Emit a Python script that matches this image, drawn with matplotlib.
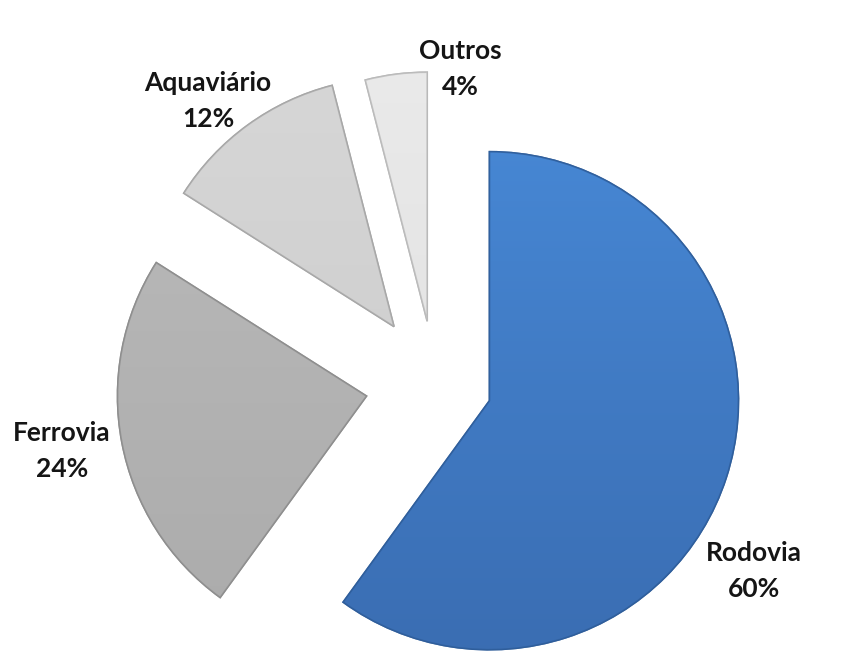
import numpy as np
import matplotlib
matplotlib.use("Agg")
import matplotlib.pyplot as plt
from matplotlib.patches import Wedge
from matplotlib.colors import LinearSegmentedColormap

# ---- data ----
categories = ["Rodovia", "Ferrovia", "Aquaviário", "Outros"]
shares = [60, 24, 12, 4]
pct_labels = ["60%", "24%", "12%", "4%"]

# ---- style ----
explode_frac = [0.23, 0.28, 0.28, 0.25]  # fraction of radius
top_colors = ["#4A8EDD", "#BDBDBD", "#D8D8D8", "#EBEBEB"]
bot_colors = ["#3A6DB2", "#ABABAB", "#C9C9C9", "#DEDEDE"]
edge_colors = ["#2E5D9A", "#8C8C8C", "#A5A5A5", "#B8B8B8"]
label_pos = [(754, 571), (62, 451), (208, 101), (460, 69)]  # pixel layout (x, y from top)

W, H = 843, 661
fig = plt.figure(figsize=(W / 100, H / 100), dpi=100)
ax = fig.add_axes([0, 0, 1, 1])

center = (435, H - 383)
radius = 249
explode = [f * radius for f in explode_frac]  # matplotlib offsets in data units

wedges, _ = ax.pie(shares, explode=explode, startangle=90, counterclock=False,
                   center=center, radius=radius, frame=True,
                   wedgeprops=dict(linewidth=1.2))
ax.set_xlim(0, W)
ax.set_ylim(0, H)
ax.set_aspect("equal")
ax.axis("off")

for w, tc, bc, ec in zip(wedges, top_colors, bot_colors, edge_colors):
    w.set_facecolor(tc)
    w.set_edgecolor(ec)
    cmap = LinearSegmentedColormap.from_list("g", [bc, tc])
    grad = np.linspace(0, 1, 256).reshape(-1, 1)
    im = ax.imshow(grad, extent=(0, W, 0, H), origin="lower", cmap=cmap,
                   aspect="auto", zorder=w.get_zorder() + 0.1)
    im.set_clip_path(w)
    ax.add_patch(Wedge(w.center, w.r, w.theta1, w.theta2, fill=False,
                       edgecolor=ec, linewidth=1.2, alpha=0.8,
                       zorder=w.get_zorder() + 0.2))
ax.set_xlim(0, W)
ax.set_ylim(0, H)

for (x, y), name, pct in zip(label_pos, categories, pct_labels):
    ax.text(x, H - y, f"{name}\n{pct}", ha="center", va="center",
            fontsize=19, fontweight="bold", family=["Lato", "DejaVu Sans"],
            color="#151515", linespacing=1.6, zorder=10)

fig.savefig("out.png", dpi=100, facecolor="white")
